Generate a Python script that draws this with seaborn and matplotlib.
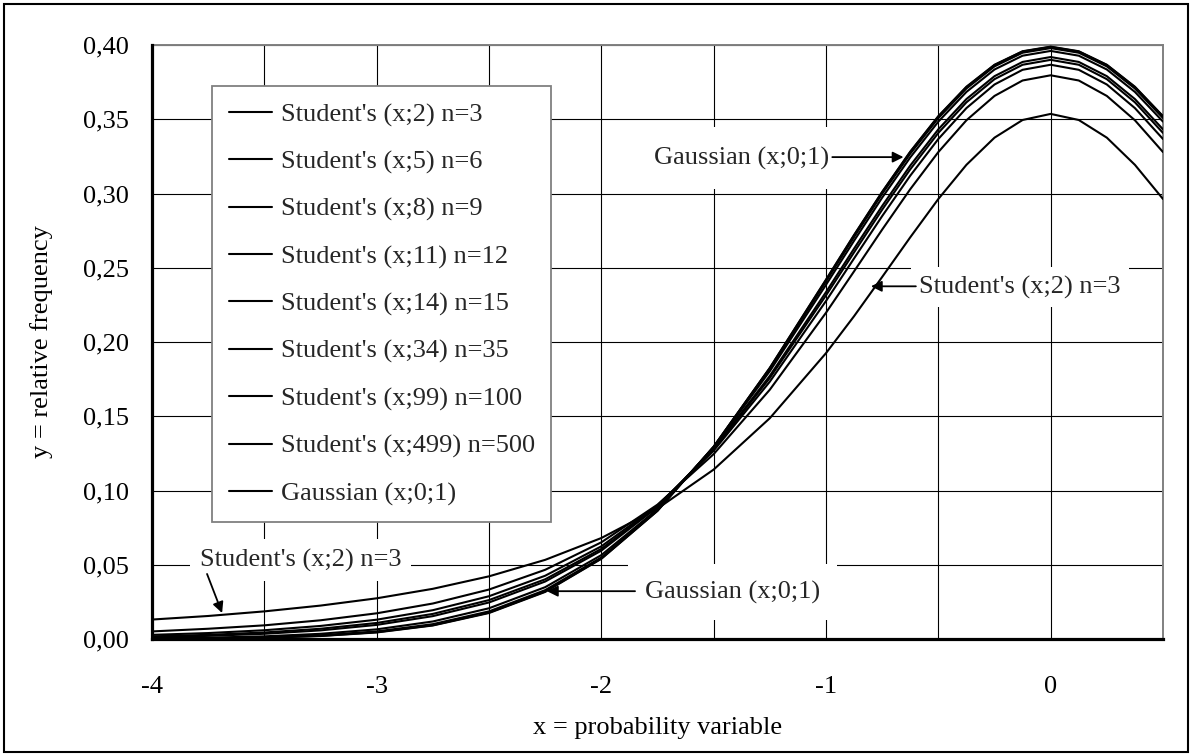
import matplotlib
matplotlib.use("Agg")
import matplotlib.pyplot as plt
from matplotlib.patches import Rectangle
import pandas as pd
import seaborn as sns

# ---- data ----
x_values = [-4.0, -3.75, -3.5, -3.25, -3.0, -2.75, -2.5, -2.25, -2.0, -1.75, -1.5, -1.25,
            -1.0, -0.875, -0.75, -0.625, -0.5, -0.375, -0.25, -0.125, 0.0,
            0.125, 0.25, 0.375, 0.5]

student_2 = [0.0131, 0.0155, 0.0186, 0.0225, 0.0274, 0.0338, 0.0422, 0.0533, 0.0680, 0.0878,
             0.1141, 0.1487, 0.1925, 0.2174, 0.2438, 0.2705, 0.2963, 0.3193, 0.3376, 0.3495,
             0.3536, 0.3495, 0.3376, 0.3193, 0.2963]
student_5 = [0.0051, 0.0069, 0.0092, 0.0126, 0.0173, 0.0239, 0.0333, 0.0466, 0.0651, 0.0905,
             0.1245, 0.1679, 0.2197, 0.2476, 0.2757, 0.3029, 0.3279, 0.3493, 0.3657, 0.3761,
             0.3796, 0.3761, 0.3657, 0.3493, 0.3279]
student_8 = [0.0028, 0.0040, 0.0059, 0.0088, 0.0130, 0.0194, 0.0288, 0.0426, 0.0624, 0.0899,
             0.1268, 0.1733, 0.2276, 0.2563, 0.2848, 0.3120, 0.3367, 0.3575, 0.3734, 0.3833,
             0.3867, 0.3833, 0.3734, 0.3575, 0.3367]
student_11 = [0.0018, 0.0028, 0.0044, 0.0069, 0.0108, 0.0169, 0.0262, 0.0402, 0.0607, 0.0893,
              0.1277, 0.1758, 0.2314, 0.2604, 0.2891, 0.3163, 0.3408, 0.3614, 0.3770, 0.3867,
              0.3900, 0.3867, 0.3770, 0.3614, 0.3408]
student_14 = [0.0013, 0.0021, 0.0035, 0.0058, 0.0095, 0.0154, 0.0246, 0.0387, 0.0595, 0.0889,
              0.1282, 0.1772, 0.2336, 0.2629, 0.2916, 0.3188, 0.3432, 0.3636, 0.3790, 0.3886,
              0.3919, 0.3886, 0.3790, 0.3636, 0.3432]
student_34 = [0.0005, 0.0009, 0.0018, 0.0035, 0.0065, 0.0118, 0.0207, 0.0349, 0.0565, 0.0875,
              0.1290, 0.1804, 0.2385, 0.2682, 0.2972, 0.3243, 0.3484, 0.3684, 0.3835, 0.3928,
              0.3960, 0.3928, 0.3835, 0.3684, 0.3484]
student_99 = [0.0002, 0.0005, 0.0012, 0.0025, 0.0051, 0.0100, 0.0186, 0.0329, 0.0549, 0.0868,
              0.1294, 0.1819, 0.2408, 0.2707, 0.2998, 0.3268, 0.3508, 0.3707, 0.3856, 0.3948,
              0.3979, 0.3948, 0.3856, 0.3707, 0.3508]
student_499 = [0.0001, 0.0004, 0.0009, 0.0021, 0.0046, 0.0093, 0.0178, 0.0320, 0.0542, 0.0864,
               0.1295, 0.1825, 0.2417, 0.2718, 0.3009, 0.3279, 0.3518, 0.3716, 0.3865, 0.3956,
               0.3987, 0.3956, 0.3865, 0.3716, 0.3518]
gaussian = [0.0001, 0.0004, 0.0009, 0.0020, 0.0044, 0.0091, 0.0175, 0.0317, 0.0540, 0.0863,
            0.1295, 0.1826, 0.2420, 0.2721, 0.3011, 0.3282, 0.3521, 0.3719, 0.3867, 0.3958,
            0.3989, 0.3958, 0.3867, 0.3719, 0.3521]

series_names = ["Student's (x;2) n=3", "Student's (x;5) n=6", "Student's (x;8) n=9",
                "Student's (x;11) n=12", "Student's (x;14) n=15", "Student's (x;34) n=35",
                "Student's (x;99) n=100", "Student's (x;499) n=500", "Gaussian (x;0;1)"]
series_values = [student_2, student_5, student_8, student_11, student_14,
                 student_34, student_99, student_499, gaussian]

x_ticks = [-4, -3, -2, -1, 0]
x_tick_labels = ["-4", "-3", "-2", "-1", "0"]
x_grid = [-3.5, -2.5, -1.5, -0.5]
y_ticks = [0.0, 0.05, 0.10, 0.15, 0.20, 0.25, 0.30, 0.35, 0.40]
y_tick_labels = ["0,00", "0,05", "0,10", "0,15", "0,20", "0,25", "0,30", "0,35", "0,40"]

# long table for seaborn
rows = []
for name, vals in zip(series_names, series_values):
    for xv, yv in zip(x_values, vals):
        rows.append({"x": xv, "y": yv, "series": name})
df = pd.DataFrame(rows)

# ---- style ----
sns.set_theme(style="white")
plt.rcParams['font.family'] = ['Liberation Serif', 'DejaVu Serif']
plt.rcParams['font.size'] = 19

fig = plt.figure(figsize=(11.92, 7.56), dpi=100)
ax = fig.add_axes([152 / 1192, 1 - 639 / 756, 1011 / 1192, 594 / 756])

sns.lineplot(data=df, x="x", y="y", hue="series", hue_order=series_names,
             palette=["black"] * len(series_names), estimator=None, sort=False,
             linewidth=1.5, ax=ax, zorder=3)

ax.set_xlim(-4, 0.5)
ax.set_ylim(0, 0.40)
ax.set_xticks(x_ticks)
ax.set_xticklabels(x_tick_labels)
ax.set_xticks(x_grid, minor=True)
ax.set_yticks(y_ticks)
ax.set_yticklabels(y_tick_labels)

ax.grid(True, which="major", color="black", linewidth=0.8)
ax.xaxis.grid(True, which="minor", color="black", linewidth=0.8)
ax.set_axisbelow(True)

ax.tick_params(axis="both", which="major", direction="out", length=7.5, width=2.2,
               color="black", labelsize=19, labelcolor="black")
ax.tick_params(axis="y", pad=9)
ax.tick_params(axis="x", pad=19)
ax.tick_params(axis="x", which="minor", length=0)

for side in ["left", "bottom"]:
    ax.spines[side].set_color("black")
    ax.spines[side].set_linewidth(2.3)
    ax.spines[side].set_zorder(5)
for side in ["top", "right"]:
    ax.spines[side].set_color("#808080")
    ax.spines[side].set_linewidth(1.4)

ax.set_xlabel("x = probability variable", fontsize=19, color="black", labelpad=14)
ax.set_ylabel("y = relative frequency", fontsize=19, color="black", labelpad=22)

# legend
handles, labels = ax.get_legend_handles_labels()
leg = ax.legend(handles, labels, loc="upper left", bbox_to_anchor=(0.0593, 0.931),
                borderaxespad=0, frameon=True, fancybox=False, framealpha=1,
                edgecolor="#808080", fontsize=19, handlelength=1.63, handletextpad=0.34,
                borderpad=0.63, labelspacing=0.89)
leg.get_frame().set_linewidth(1.3)
leg.set_zorder(6)

# annotations with arrows
arrow_kw = dict(arrowstyle="-|>", color="black", lw=1.3, mutation_scale=16,
                shrinkA=0, shrinkB=0)
box_kw = dict(facecolor="white", edgecolor="none")

ax.text(-0.985, 0.3239, "Gaussian (x;0;1)", ha="right", va="center", fontsize=19,
        bbox=dict(pad=14, **box_kw), zorder=4)
ax.annotate("", xy=(-0.655, 0.3245), xytext=(-0.972, 0.3245), arrowprops=arrow_kw, zorder=7)

ax.text(-0.585, 0.2370, "Student's (x;2) n=3", ha="left", va="center", fontsize=19,
        bbox=dict(pad=6, **box_kw), zorder=4)
ax.annotate("", xy=(-0.80, 0.2375), xytext=(-0.60, 0.2375), arrowprops=arrow_kw, zorder=7)

ax.text(-3.786, 0.0532, "Student's (x;2) n=3", ha="left", va="center", fontsize=19,
        bbox=dict(pad=7, **box_kw), zorder=4)
ax.annotate("", xy=(-3.688, 0.0175), xytext=(-3.755, 0.0438), arrowprops=arrow_kw, zorder=7)

ax.text(-1.806, 0.0316, "Gaussian (x;0;1)", ha="left", va="center", fontsize=19,
        bbox=dict(pad=12, **box_kw), zorder=4)
ax.annotate("", xy=(-2.242, 0.0322), xytext=(-1.850, 0.0322), arrowprops=arrow_kw, zorder=7)

# outer frame of the picture
fig.patches.append(Rectangle((4 / 1192, 4 / 756), 1184 / 1192, 748 / 756,
                             transform=fig.transFigure, fill=False,
                             edgecolor="black", linewidth=1.5))

fig.savefig("out.png", dpi=100)
